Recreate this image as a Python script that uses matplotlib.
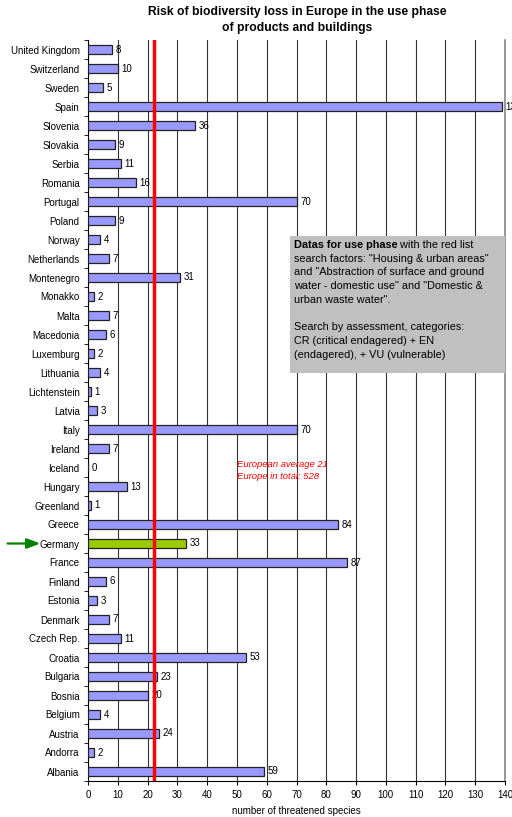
import numpy as np
import matplotlib
matplotlib.use('Agg')
import matplotlib.pyplot as plt
from matplotlib.ticker import FixedLocator
from matplotlib.patches import Rectangle

# data (top to bottom as shown)
countries = ["United Kingdom", "Switzerland", "Sweden", "Spain", "Slovenia", "Slovakia",
             "Serbia", "Romania", "Portugal", "Poland", "Norway", "Netherlands",
             "Montenegro", "Monakko", "Malta", "Macedonia", "Luxemburg", "Lithuania",
             "Lichtenstein", "Latvia", "Italy", "Ireland", "Iceland", "Hungary",
             "Greenland", "Greece", "Germany", "France", "Finland", "Estonia",
             "Denmark", "Czech Rep.", "Croatia", "Bulgaria", "Bosnia", "Belgium",
             "Austria", "Andorra", "Albania"]
species = [8, 10, 5, 139, 36, 9, 11, 16, 70, 9, 4, 7, 31, 2, 7, 6, 2, 4, 1, 3,
           70, 7, 0, 13, 1, 84, 33, 87, 6, 3, 7, 11, 53, 23, 20, 4, 24, 2, 59]
highlight = "Germany"
eu_line = 22
x_ticks = list(range(0, 141, 10))

plt.rcParams['font.family'] = ['Liberation Sans', 'DejaVu Sans']

fig = plt.figure(figsize=(5.12, 8.17), dpi=100)
ax = fig.add_axes([88/512, 1 - 781/817, 417/512, 741/817])

y = np.arange(len(countries))
colors = ["#99cc00" if c == highlight else "#9999ff" for c in countries]
ax.barh(y, species, height=0.45, color=colors, edgecolor="#222222", linewidth=0.9, zorder=3)

for yi, v in zip(y, species):
    ax.text(v + 1.2, yi, str(v), va="center", ha="left", fontsize=7, clip_on=False)

ax.set_xlim(0, 140)
ax.set_ylim(len(countries) - 0.5, -0.5)
ax.set_xticks(x_ticks)
ax.set_yticks(y)
ax.set_yticklabels(countries, fontsize=7)
ax.yaxis.set_minor_locator(FixedLocator(np.arange(-0.5, len(countries), 1)))
ax.tick_params(axis="y", which="major", length=0, pad=6)
ax.tick_params(axis="y", which="minor", length=3, direction="out")
ax.tick_params(axis="x", labelsize=7, length=3, direction="out")
ax.grid(axis="x", color="#333333", linewidth=0.8, zorder=0)

ax.axvline(eu_line, color="red", linewidth=2.5, zorder=4)

ax.spines["top"].set_visible(False)
ax.spines["right"].set_color("#888888")
ax.spines["right"].set_linewidth(1.2)

ax.set_xlabel("number of threatened species", fontsize=7, labelpad=4)
fig.suptitle("Risk of biodiversity loss in Europe in the use phase\nof products and buildings",
             fontsize=8.7, fontweight="bold", x=0.58, y=0.993, linespacing=1.45)

ax.text(50, 22.15, "European average 21\nEurope in total: 528", color="red",
        fontsize=6.8, style="italic", va="center", linespacing=1.5, zorder=5)

# grey note box
ax.add_patch(Rectangle((67.8, 9.8), 72.2, 7.2, facecolor="#c0c0c0", edgecolor="none", zorder=6))
head = ax.text(69.1, 10.0, "Datas for use phase", fontsize=7.8, fontweight="bold",
               va="top", ha="left", zorder=7)
ax.annotate(" with the red list", xy=(1, 0), xycoords=head, va="bottom", ha="left",
            fontsize=7.8, zorder=7)
note = ("search factors: \"Housing & urban areas\"\n"
        "and \"Abstraction of surface and ground\n"
        "water - domestic use\" and \"Domestic &\n"
        "urban waste water\".\n\n"
        "Search by assessment, categories:\n"
        "CR (critical endagered) + EN\n"
        "(endagered), + VU (vulnerable)")
ax.text(69.1, 10.0 + 14 / 19, note, fontsize=7.8, va="top", ha="left",
        linespacing=1.47, zorder=7)

# arrow pointing at Germany
gy = countries.index(highlight)
ax.annotate("", xy=(-16.0, gy), xytext=(-27.0, gy), annotation_clip=False,
            arrowprops=dict(arrowstyle="-|>,head_length=0.8,head_width=0.3",
                            color="green", lw=1.6, shrinkA=0, shrinkB=0))

fig.savefig("out.png", dpi=100)
